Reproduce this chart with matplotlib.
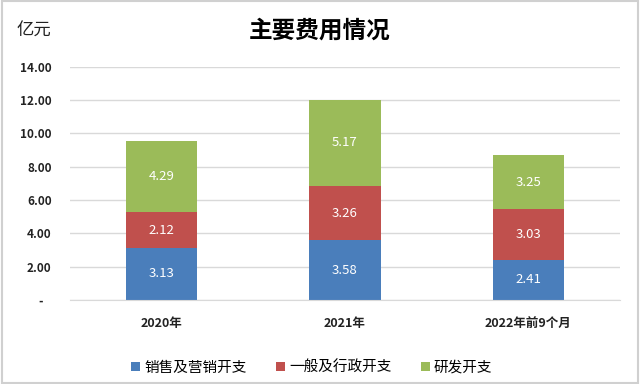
import matplotlib.pyplot as plt
import numpy as np

plt.rcParams["font.family"] = ["Noto Sans CJK SC", "DejaVu Sans"]

categories = ["2020年", "2021年", "2022年前9个月"]
series_names = ["销售及营销开支", "一般及行政开支", "研发开支"]
sales = [3.13, 3.58, 2.41]
admin = [2.12, 3.26, 3.03]
rnd = [4.29, 5.17, 3.25]
colors = ["#4a7ebb", "#c0504d", "#9bbb59"]


def main():
    fig = plt.figure(figsize=(6.4, 3.84), dpi=100)
    ax = fig.add_axes([0.109, 0.219, 0.86, 0.607])

    x = np.arange(len(categories))
    bottom = np.zeros(len(categories))
    for name, vals, col in zip(series_names, [sales, admin, rnd], colors):
        bars = ax.bar(x, vals, width=0.39, bottom=bottom, color=col, label=name, zorder=2)
        for b, v in zip(bars, vals):
            ax.text(b.get_x() + b.get_width() / 2, b.get_y() + v / 2, f"{v:.2f}",
                    ha="center", va="center", color="white", fontsize=9.5, zorder=3)
        bottom += np.array(vals)

    ax.set_xlim(-0.5, 2.5)
    ax.set_ylim(0, 14)
    ticks = np.arange(0, 15, 2)
    ax.set_yticks(ticks)
    ax.set_yticklabels(["-   "] + [f"{t:.2f}" for t in ticks[1:]], fontweight="bold", fontsize=8.5,
                       color="#222222")
    ax.set_xticks(x)
    ax.set_xticklabels(categories, fontweight="bold", fontsize=9, color="#222222")
    ax.tick_params(axis="both", length=0)
    ax.tick_params(axis="y", pad=13)
    ax.tick_params(axis="x", pad=12)

    ax.grid(axis="y", color="#d9d9d9", linewidth=1, zorder=0)
    for s in ["top", "right", "left"]:
        ax.spines[s].set_visible(False)
    ax.spines["bottom"].set_color("#d9d9d9")

    fig.text(0.5, 0.92, "主要费用情况", ha="center", va="center", fontsize=17, fontweight="bold")
    fig.text(0.026, 0.92, "亿元", ha="left", va="center", fontsize=12.5, color="#222222")

    ax.legend(loc="center", bbox_to_anchor=(0.44, -0.29), ncol=3, frameon=False, fontsize=10.5,
              handlelength=0.6, handleheight=0.6, handletextpad=0.3, columnspacing=2.0)

    fig.patches.append(plt.Rectangle((0.003, 0.003), 0.994, 0.994, transform=fig.transFigure,
                                     fill=False, edgecolor="#d0d0d0", linewidth=1.5))
    fig.savefig("out.png", dpi=100)


if __name__ == "__main__":
    main()
